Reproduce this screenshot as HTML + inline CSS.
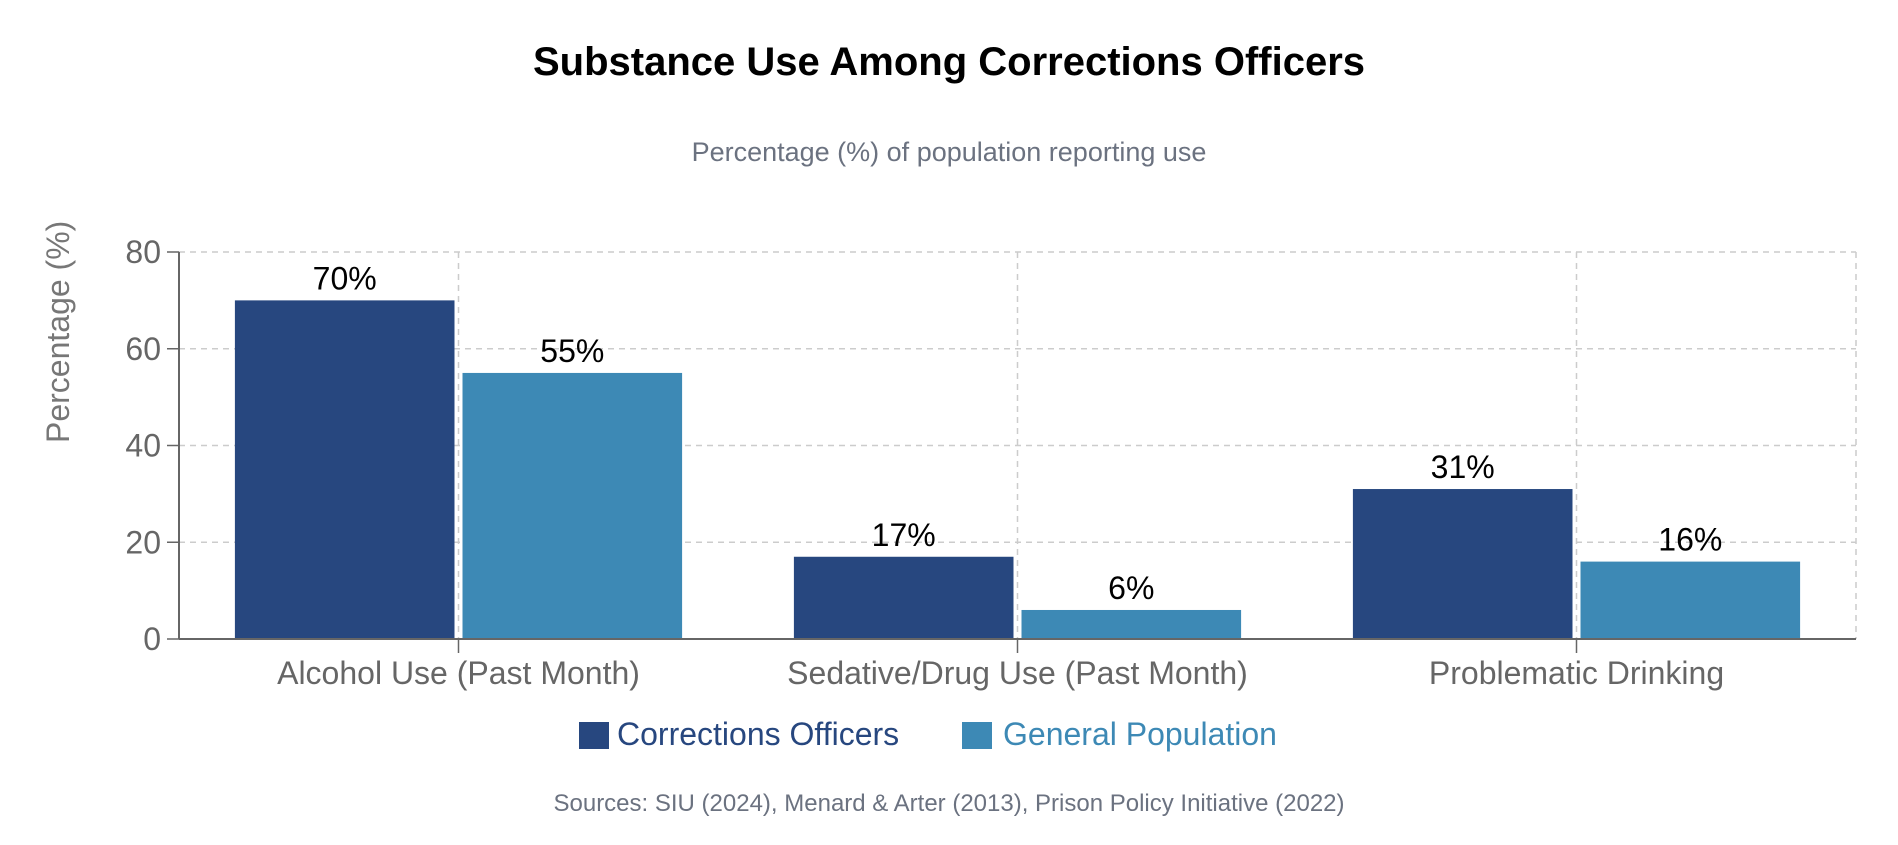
<!DOCTYPE html>
<html><head><meta charset="utf-8"><style>
body{margin:0;background:#fff;}
text{font-family:"Liberation Sans",sans-serif;}
</style></head><body>
<svg id="chart" width="1898" height="840" xmlns="http://www.w3.org/2000/svg">
<defs><clipPath id="yclip"><rect x="0" y="208" width="120" height="600"/></clipPath></defs>
<text x="949" y="75" text-anchor="middle" font-size="40" font-weight="bold" fill="#000">Substance Use Among Corrections Officers</text>
<text x="949" y="161" text-anchor="middle" font-size="27" fill="#6b7280">Percentage (%) of population reporting use</text>
<g clip-path="url(#yclip)"><text transform="translate(69,443) rotate(-90)" font-size="32" fill="#777">Percentage (%)</text></g>
<g id="grid"></g><g id="bars"></g><g id="axes"></g>
<rect x="579" y="722" width="30" height="27" fill="#27477f"/>
<text x="617" y="745" font-size="32" fill="#27477f">Corrections Officers</text>
<rect x="962" y="722" width="30" height="27" fill="#3d89b5"/>
<text x="1003" y="745" font-size="32" fill="#3d89b5">General Population</text>
<text x="949" y="811" text-anchor="middle" font-size="24" fill="#6b7280">Sources: SIU (2024), Menard &amp; Arter (2013), Prison Policy Initiative (2022)</text>
</svg>
<script>
const categories=["Alcohol Use (Past Month)","Sedative/Drug Use (Past Month)","Problematic Drinking"];
const officers=[70,17,31];
const general=[55,6,16];
const yTicks=[0,20,40,60,80];
const NS="http://www.w3.org/2000/svg";
const X0=179,X1=1856,Y0=639,Y1=252,YMAX=80;
const band=(X1-X0)/categories.length;
function y(v){return Y0-(v/YMAX)*(Y0-Y1);}
function bandX(i){return X0+i*band;}
function mk(tag,attrs,parent){const e=document.createElementNS(NS,tag);for(const k in attrs)e.setAttribute(k,attrs[k]);document.getElementById(parent).appendChild(e);return e;}
yTicks.forEach(t=>{
 if(t>0){const g=mk('line',{x1:X0,x2:X1,y1:y(t),y2:y(t),stroke:'#ccc','stroke-dasharray':'6,5','stroke-width':1.5},'grid');
 
 }
 const tk=mk('line',{x1:X0-12,x2:X0,y1:y(t),y2:y(t),stroke:'#666','stroke-width':1.5},'axes');
 
 
 const lb=mk('text',{x:X0-18,y:y(t)+11,'text-anchor':'end','font-size':32,fill:'#666'},'axes');
 lb.textContent=t;
 
 
});
for(let i=0;i<=categories.length;i++){
 const xv=i<categories.length?bandX(i)+band/2:X1;
 const g=mk('line',{x1:xv,x2:xv,y1:Y1,y2:Y0,stroke:'#ccc','stroke-dasharray':'6,5','stroke-width':1.5},'grid');
 
 
}
const pad=band*0.1,gap=8,bw=(band-2*pad-gap)/2;
categories.forEach((c,i)=>{
 const bx=bandX(i)+pad;
 [[officers,'#27477f','officers',bx],[general,'#3d89b5','general',bx+bw+gap]].forEach(([arr,col,nm,x])=>{
  const v=arr[i];
  const r=mk('rect',{x:x,y:y(v),width:bw,height:Y0-y(v),fill:col},'bars');
  
  
  const t=mk('text',{x:x+bw/2,y:y(v)-11,'text-anchor':'middle','font-size':32,fill:'#000'},'bars');
  t.textContent=v+'%';
  
  
 });
 const cx=bandX(i)+band/2;
 const tk=mk('line',{x1:cx,x2:cx,y1:Y0,y2:Y0+14,stroke:'#666','stroke-width':1.5},'axes');
 
 
 const lb=mk('text',{x:cx,y:684,'text-anchor':'middle','font-size':32,fill:'#666'},'axes');
 lb.textContent=c;
 
 
});
const ya=mk('line',{x1:X0,x2:X0,y1:Y1,y2:Y0,stroke:'#666','stroke-width':2},'axes');


const xa=mk('line',{x1:X0,x2:X1,y1:Y0,y2:Y0,stroke:'#666','stroke-width':2},'axes');


</script>
</body></html>
